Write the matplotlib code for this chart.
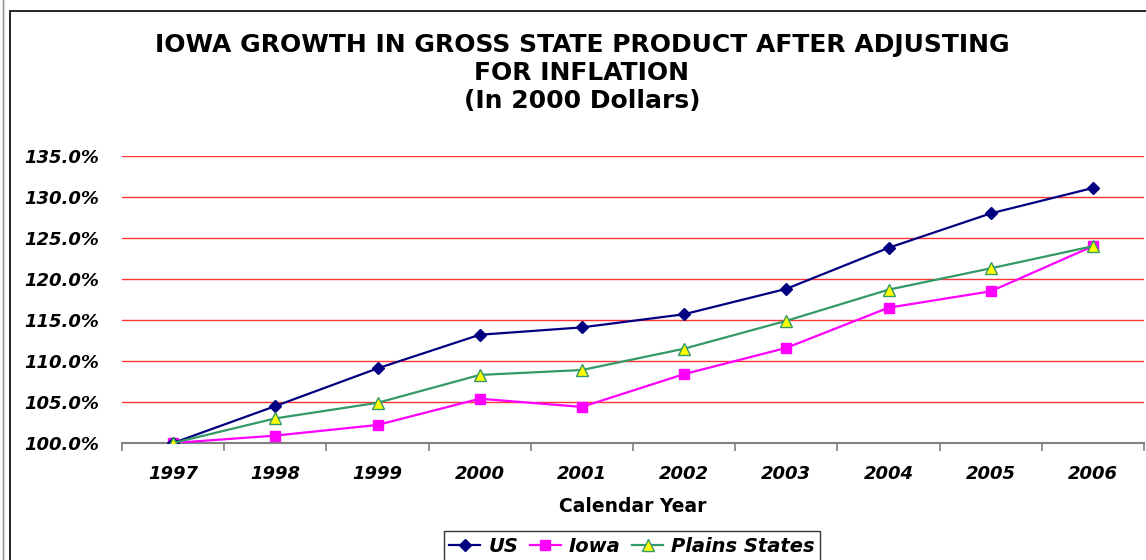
import matplotlib
matplotlib.use("Agg")
import matplotlib.pyplot as plt
from matplotlib.patches import Rectangle
from matplotlib.ticker import FuncFormatter

years = ["1997", "1998", "1999", "2000", "2001", "2002", "2003", "2004", "2005", "2006"]
us = [100.0, 104.5, 109.1, 113.2, 114.1, 115.7, 118.8, 123.8, 128.0, 131.1]
iowa = [100.0, 100.9, 102.2, 105.4, 104.4, 108.4, 111.6, 116.5, 118.5, 124.0]
plains = [100.0, 103.0, 104.9, 108.3, 108.9, 111.5, 114.9, 118.7, 121.3, 124.0]

plt.rcParams["font.family"] = ["DejaVu Sans"]

fig = plt.figure(figsize=(11.46, 5.6), dpi=100)

# outer chart frame
fig.patches.append(Rectangle((10 / 1146, -0.01), 1.1, 1 - 11 / 560 + 0.01,
                             transform=fig.transFigure, fill=False,
                             edgecolor="black", lw=1.2))
fig.patches.append(Rectangle((3 / 1146, -0.01), 0.0, 1.1,
                             transform=fig.transFigure, fill=False,
                             edgecolor="#999999", lw=1.0))

ax = fig.add_axes([122 / 1146, 1 - 443 / 560, 1022 / 1146, (443 - 156) / 560])
x = range(len(years))

ax.plot(x, us, color="#000080", lw=1.6, marker="D", ms=6.5,
        mfc="#000080", mec="#000080", label="US", zorder=4)
ax.plot(x, iowa, color="#ff00ff", lw=1.6, marker="s", ms=7,
        mfc="#ff00ff", mec="#ff00ff", label="Iowa", zorder=3)
ax.plot(x, plains, color="#339966", lw=1.6, marker="^", ms=8.5,
        mfc="#ffff00", mec="#339966", mew=1.0, label="Plains States", zorder=5)

ax.set_xlim(-0.5, len(years) - 0.5)
ax.set_ylim(100, 135)
ax.set_yticks(range(100, 136, 5))
ax.yaxis.set_major_formatter(FuncFormatter(lambda v, p: f"{v:.1f}%"))
for v in range(105, 136, 5):
    ax.axhline(v, color="#ff3333", lw=1.0, zorder=1)

ax.set_xticks(list(x))
ax.set_xticklabels(years)
ax.set_xticks([i - 0.5 for i in range(len(years) + 1)], minor=True)
ax.tick_params(axis="x", which="major", length=0, pad=16)
ax.tick_params(axis="x", which="minor", length=6, width=1.2, color="#808080")
ax.tick_params(axis="y", length=0, pad=16.5)

for lab in ax.get_xticklabels() + ax.get_yticklabels():
    lab.set_fontsize(13)
    lab.set_fontweight("bold")
    lab.set_fontstyle("italic")

for side in ("top", "right", "left"):
    ax.spines[side].set_visible(False)
ax.spines["bottom"].set_color("#808080")
ax.spines["bottom"].set_linewidth(1.5)
ax.spines["bottom"].set_zorder(2)

ax.set_xlabel("Calendar Year", fontsize=13.5, fontweight="bold", labelpad=10)

fig.text(582 / 1146, 1 - 73 / 560,
         "IOWA GROWTH IN GROSS STATE PRODUCT AFTER ADJUSTING\nFOR INFLATION\n(In 2000 Dollars)",
         ha="center", va="center", fontsize=18, fontweight="bold",
         linespacing=1.2)

leg = ax.legend(loc="upper center", bbox_to_anchor=(632 / 1146, 1 - 531 / 560),
                bbox_transform=fig.transFigure, ncol=3, frameon=True,
                fancybox=False, edgecolor="black", handlelength=1.6,
                handletextpad=0.4, columnspacing=0.6, borderpad=0.3,
                borderaxespad=0.0,
                prop={"size": 14, "weight": "bold", "style": "italic"})
leg.get_frame().set_linewidth(1.0)

fig.savefig("out.png", dpi=100)
